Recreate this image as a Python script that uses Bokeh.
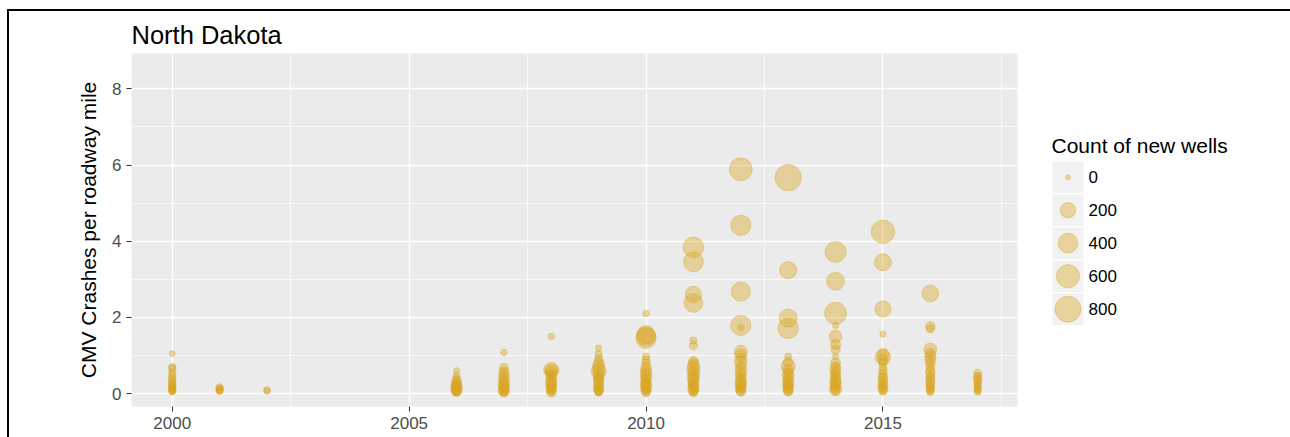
import math
from bokeh.plotting import figure
from bokeh.models import Range1d, FixedTicker, ColumnDataSource, Spacer
from bokeh.layouts import row, column
from bokeh.embed import file_html
from bokeh.resources import INLINE
from bokeh.core.properties import value

# ---------------- data ----------------
title_text = "North Dakota"
y_label = "CMV Crashes per roadway mile"
legend_title = "Count of new wells"

x_ticks = [2000, 2005, 2010, 2015]
x_tick_labels = ["2000", "2005", "2010", "2015"]
x_minor = [2002.5, 2007.5, 2012.5, 2017.5]
y_ticks = [0, 2, 4, 6, 8]
y_tick_labels = ["0", "2", "4", "6", "8"]
y_minor = [1, 3, 5, 7]

legend_values = [0, 200, 400, 600, 800]
legend_labels = ["0", "200", "400", "600", "800"]

rate_2000 = [1.05, 0.69, 0.66, 0.55, 0.48, 0.42, 0.36, 0.31, 0.27, 0.23, 0.20, 0.17, 0.14, 0.12, 0.10, 0.08, 0.06, 0.05]
wells_2000 = [2, 12, 10, 8, 10, 6, 15, 8, 12, 5, 14, 9, 6, 10, 16, 8, 5, 3]
rate_2001 = [0.16, 0.12, 0.10, 0.08, 0.06]
wells_2001 = [10, 14, 6, 8, 4]
rate_2002 = [0.09, 0.07]
wells_2002 = [6, 4]
rate_2006 = [0.60, 0.48, 0.38, 0.33, 0.28, 0.24, 0.20, 0.17, 0.14, 0.11, 0.09, 0.07, 0.05, 0.03]
wells_2006 = [2, 5, 20, 40, 25, 60, 35, 80, 30, 70, 20, 50, 40, 10]
rate_2007 = [1.08, 0.68, 0.60, 0.52, 0.46, 0.40, 0.34, 0.30, 0.25, 0.21, 0.17, 0.13, 0.10, 0.07, 0.05, 0.03]
wells_2007 = [3, 30, 25, 60, 20, 70, 40, 30, 90, 35, 60, 20, 45, 80, 30, 15]
rate_2008 = [1.50, 0.62, 0.60, 0.55, 0.50, 0.44, 0.38, 0.33, 0.28, 0.24, 0.20, 0.16, 0.12, 0.09, 0.06, 0.03]
wells_2008 = [3, 190, 120, 70, 40, 60, 30, 80, 45, 35, 70, 25, 55, 35, 20, 40]
rate_2009 = [1.19, 1.03, 0.93, 0.82, 0.75, 0.66, 0.58, 0.52, 0.46, 0.40, 0.35, 0.30, 0.25, 0.20, 0.16, 0.12, 0.08, 0.05, 0.03]
wells_2009 = [3, 8, 14, 50, 80, 100, 180, 70, 40, 60, 35, 55, 30, 45, 25, 60, 30, 20, 10]
rate_2010 = [2.10, 1.55, 1.50, 1.45, 0.97, 0.88, 0.80, 0.70, 0.62, 0.55, 0.48, 0.42, 0.36, 0.30, 0.26, 0.22, 0.18, 0.14, 0.10, 0.06, 0.03]
wells_2010 = [4, 300, 380, 420, 8, 15, 20, 45, 70, 50, 90, 40, 60, 30, 50, 80, 35, 55, 30, 45, 20]
rate_2011 = [3.84, 3.46, 2.60, 2.38, 1.39, 1.26, 0.86, 0.80, 0.72, 0.64, 0.58, 0.50, 0.45, 0.40, 0.35, 0.30, 0.25, 0.20, 0.16, 0.12, 0.08, 0.05, 0.03]
wells_2011 = [440, 400, 240, 340, 10, 20, 25, 55, 90, 120, 50, 100, 40, 70, 85, 35, 60, 50, 40, 80, 25, 35, 15]
rate_2012 = [5.89, 4.42, 2.68, 1.79, 1.73, 1.10, 1.02, 0.92, 0.82, 0.72, 0.63, 0.55, 0.48, 0.42, 0.36, 0.30, 0.25, 0.20, 0.16, 0.12, 0.08, 0.05]
wells_2012 = [580, 420, 370, 420, 2, 110, 80, 60, 110, 40, 85, 50, 70, 35, 60, 80, 40, 65, 50, 35, 55, 25]
rate_2013 = [5.67, 3.24, 1.98, 1.71, 0.97, 0.82, 0.71, 0.62, 0.55, 0.48, 0.42, 0.36, 0.30, 0.25, 0.20, 0.16, 0.12, 0.08, 0.05]
wells_2013 = [820, 270, 320, 440, 8, 45, 150, 60, 40, 90, 55, 35, 70, 50, 40, 65, 35, 50, 25]
rate_2014 = [3.72, 2.95, 2.11, 1.79, 1.50, 1.29, 1.15, 0.97, 0.80, 0.72, 0.64, 0.56, 0.50, 0.44, 0.38, 0.32, 0.27, 0.22, 0.18, 0.14, 0.10, 0.07]
wells_2014 = [470, 300, 520, 2, 110, 50, 35, 3, 45, 30, 70, 40, 55, 35, 50, 80, 40, 65, 35, 50, 90, 25]
rate_2015 = [4.25, 3.45, 2.22, 1.56, 1.03, 0.95, 0.90, 0.82, 0.70, 0.60, 0.52, 0.45, 0.40, 0.34, 0.28, 0.22, 0.17, 0.13, 0.09, 0.06]
wells_2015 = [620, 260, 230, 2, 90, 200, 60, 25, 15, 25, 15, 30, 40, 20, 30, 45, 25, 40, 20, 15]
rate_2016 = [2.63, 1.76, 1.70, 1.16, 1.05, 0.97, 0.88, 0.80, 0.70, 0.62, 0.55, 0.48, 0.42, 0.36, 0.30, 0.25, 0.20, 0.15, 0.11, 0.07, 0.04]
wells_2016 = [250, 40, 20, 110, 50, 70, 60, 30, 25, 20, 40, 15, 30, 20, 35, 15, 25, 15, 20, 10, 8]
rate_2017 = [0.53, 0.46, 0.40, 0.35, 0.30, 0.25, 0.20, 0.15, 0.11, 0.07, 0.04]
wells_2017 = [20, 10, 30, 15, 8, 12, 10, 6, 8, 5, 4]

years = [2000, 2001, 2002, 2006, 2007, 2008, 2009, 2010, 2011, 2012, 2013, 2014, 2015, 2016, 2017]
rates = [rate_2000, rate_2001, rate_2002, rate_2006, rate_2007, rate_2008, rate_2009, rate_2010,
         rate_2011, rate_2012, rate_2013, rate_2014, rate_2015, rate_2016, rate_2017]
wells = [wells_2000, wells_2001, wells_2002, wells_2006, wells_2007, wells_2008, wells_2009, wells_2010,
         wells_2011, wells_2012, wells_2013, wells_2014, wells_2015, wells_2016, wells_2017]

# ---------------- styling ----------------
FONT = "Liberation Sans"
GOLD = "#DAA520"
ALPHA = 0.4


def diam(n):
    # area-style size scale: 0 -> 5 px, 800 -> 26 px
    return 5 + 21 * math.sqrt(max(n, 0) / 800.0)


xs, ys, ws, ss = [], [], [], []
for yr, rr, ww in zip(years, rates, wells):
    for r, w in zip(rr, ww):
        xs.append(yr)
        ys.append(r)
        ws.append(w)
        ss.append(diam(w))
src = ColumnDataSource(dict(x=xs, y=ys, wells=ws, s=ss))

MAIN_H = 426
BORDER_TOP = 42
BORDER_BOTTOM = 31

p = figure(width=1040, height=MAIN_H,
           x_range=Range1d(1999.14, 2017.84), y_range=Range1d(-0.34, 8.93),
           output_backend="svg", toolbar_location=None,
           min_border_left=122, min_border_right=32,
           min_border_top=BORDER_TOP, min_border_bottom=BORDER_BOTTOM,
           background_fill_color="#ebebeb", border_fill_color="white",
           outline_line_color=None, title=title_text)

p.title.text_font = FONT
p.title.text_font_size = "25.5px"
p.title.text_font_style = "normal"
p.title.text_color = "black"
p.title.align = "left"
p.title.standoff = 9

xt = FixedTicker(ticks=x_ticks, minor_ticks=x_minor)
yt = FixedTicker(ticks=y_ticks, minor_ticks=y_minor)
p.xaxis.ticker = xt
p.yaxis.ticker = yt
p.xgrid.ticker = xt
p.ygrid.ticker = yt
p.xaxis.major_label_overrides = {t: l for t, l in zip(x_ticks, x_tick_labels)}
p.yaxis.major_label_overrides = {t: l for t, l in zip(y_ticks, y_tick_labels)}

for g in (p.xgrid, p.ygrid):
    g.grid_line_color = "white"
    g.grid_line_width = 1.3
    g.minor_grid_line_color = "white"
    g.minor_grid_line_width = 0.7

for ax in (p.xaxis, p.yaxis):
    ax.axis_line_color = None
    ax.major_tick_line_color = "#333333"
    ax.major_tick_line_width = 1
    ax.major_tick_out = 5
    ax.major_tick_in = 0
    ax.minor_tick_line_color = None
    ax.major_label_text_color = "#4d4d4d"
    ax.major_label_text_font = FONT
    ax.major_label_text_font_size = "17px"
    ax.major_label_standoff = 5

p.yaxis.axis_label = y_label
p.yaxis.axis_label_text_font = FONT
p.yaxis.axis_label_text_font_size = "21px"
p.yaxis.axis_label_text_font_style = "normal"
p.yaxis.axis_label_text_color = "black"
p.yaxis.axis_label_standoff = 9

p.scatter(x="x", y="y", size="s", source=src, marker="circle",
          fill_color=GOLD, fill_alpha=ALPHA, line_color=GOLD, line_alpha=ALPHA, line_width=1)

# ---------------- legend panel (separate figure; its frame is aligned with the main frame) ----------------
frame_top_page = 11 + BORDER_TOP
frame_bottom_page = 11 + MAIN_H - BORDER_BOTTOM
leg = figure(width=241, height=MAIN_H, x_range=Range1d(1049, 1290),
             y_range=Range1d(frame_bottom_page, frame_top_page),
             output_backend="svg", toolbar_location=None, min_border=0,
             min_border_top=BORDER_TOP, min_border_bottom=BORDER_BOTTOM,
             x_axis_type=None, y_axis_type=None, outline_line_color=None,
             background_fill_color="white", border_fill_color="white")
leg.xgrid.visible = False
leg.ygrid.visible = False

key_x = 1067.5
key_y0 = 176.7
key_step = 33.0
key_ys = [key_y0 + i * key_step for i in range(len(legend_values))]

leg.rect(x=[key_x] * len(key_ys), y=key_ys, width=31, height=31.5,
         fill_color="#f2f2f2", line_color=None)
leg.scatter(x=[key_x] * len(key_ys), y=key_ys, size=[diam(v) for v in legend_values],
            marker="circle", fill_color=GOLD, fill_alpha=ALPHA, line_color=GOLD,
            line_alpha=ALPHA, line_width=1)
leg.text(x=[1088] * len(key_ys), y=key_ys, text=legend_labels, text_baseline="middle",
         text_align="left", text_font=value(FONT), text_font_size="17px", text_color="black")
leg.text(x=[1051], y=[145], text=[legend_title], text_baseline="middle",
         text_align="left", text_font=value(FONT), text_font_size="21px", text_color="black")

# ---------------- framing lines ----------------
top_gap = Spacer(width=1290, height=9)
top_line = row(Spacer(width=7, height=2),
               Spacer(width=1283, height=2, styles={"background-color": "#000000"}))
body = row(Spacer(width=7, height=MAIN_H),
           Spacer(width=2, height=MAIN_H, styles={"background-color": "#000000"}),
           p, leg)
layout = column(top_gap, top_line, body)

open("out.html", "w").write(file_html(layout, INLINE))
